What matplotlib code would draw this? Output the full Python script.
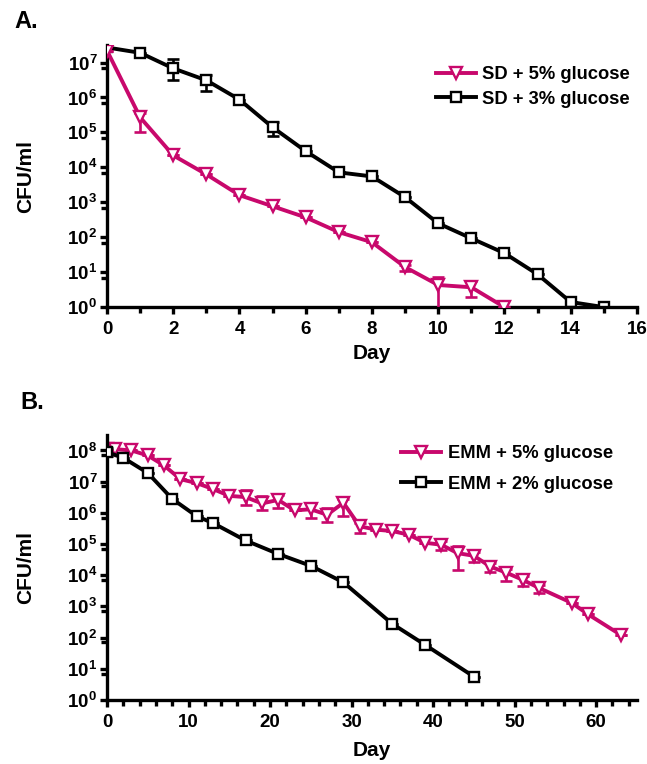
import numpy as np
import matplotlib
matplotlib.use('Agg')
import matplotlib.pyplot as plt
from matplotlib.ticker import MultipleLocator, FuncFormatter, LogLocator, NullFormatter

plt.rcParams['font.family'] = ['Liberation Sans', 'DejaVu Sans']
plt.rcParams['font.weight'] = 'bold'
plt.rcParams['mathtext.fontset'] = 'custom'
plt.rcParams['mathtext.bf'] = 'Liberation Sans:bold'
plt.rcParams['mathtext.rm'] = 'Liberation Sans:bold'

PINK = '#C8086C'
BLACK = '#000000'

# --- panel A: SD medium ---
days_sd5 = list(range(0, 13))
sd5 = [2.2e7, 2.7e5, 2.2e4, 6.3e3, 1.6e3, 7.7e2, 3.7e2, 1.4e2, 7.2e1, 1.4e1, 4.3, 3.7, 1.0]
sd5_lo = [2.2e7, 1.0e5, 2.2e4, 6.3e3, 1.6e3, 7.7e2, 3.7e2, 1.4e2, 7.2e1, 1.1e1, 0.5, 1.95, 1.0]
sd5_hi = [2.2e7, 3.7e5, 2.2e4, 6.3e3, 1.6e3, 7.7e2, 3.7e2, 1.4e2, 7.2e1, 1.6e1, 7.2, 5.5, 1.0]

days_sd3 = list(range(0, 16))
sd3 = [2.7e7, 1.9e7, 6.8e6, 3.1e6, 8.7e5, 1.4e5, 2.9e4, 7.2e3, 5.5e3, 1.4e3, 2.5e2, 9.3e1, 3.5e1, 8.7, 1.4, 1.0]
sd3_lo = [2.4e7, 1.9e7, 3.1e6, 1.5e6, 8.7e5, 8.1e4, 2.9e4, 7.2e3, 5.5e3, 1.4e3, 2.5e2, 9.3e1, 3.5e1, 8.7, 1.4, 1.0]
sd3_hi = [3.3e7, 1.9e7, 1.26e7, 4.3e6, 8.7e5, 1.95e5, 2.9e4, 7.2e3, 5.5e3, 1.4e3, 2.5e2, 9.3e1, 3.5e1, 8.7, 1.4, 1.0]

# --- panel B: EMM medium ---
days_emm5 = [0, 1, 3, 5, 7, 9, 11, 13, 15, 17, 19, 21, 23, 25, 27, 29, 31,
             33, 35, 37, 39, 41, 43, 45, 47, 49, 51, 53, 57, 59, 63]
emm5 = [1.1e8, 1.1e8, 1.0e8, 6.9e7, 3.3e7, 1.2e7, 9.0e6, 5.8e6, 3.5e6, 3.2e6,
        2.0e6, 2.6e6, 1.2e6, 1.3e6, 8.7e5, 2.1e6, 3.7e5, 2.9e5, 2.6e5, 2.0e5,
        1.1e5, 9.5e4, 5.1e4, 4.2e4, 1.9e4, 1.2e4, 7.1e3, 3.9e3, 1.3e3, 5.6e2, 1.23e2]
emm5_lo = [8.3e7, 1.1e8, 1.0e8, 6.9e7, 3.3e7, 1.2e7, 9.0e6, 5.8e6, 3.5e6, 1.8e6,
           1.2e6, 1.45e6, 1.2e6, 6.9e5, 5.0e5, 7.8e5, 2.3e5, 2.9e5, 2.6e5, 2.0e5,
           1.1e5, 6.6e4, 1.5e4, 2.75e4, 1.3e4, 6.3e3, 4.4e3, 2.7e3, 1.3e3, 5.6e2, 1.23e2]
emm5_hi = [1.55e8, 1.1e8, 1.0e8, 6.9e7, 3.3e7, 1.2e7, 9.0e6, 5.8e6, 3.5e6, 5.6e6,
           3.4e6, 3.8e6, 1.2e6, 2.1e6, 1.45e6, 2.8e6, 4.7e5, 2.9e5, 2.6e5, 2.0e5,
           1.1e5, 1.23e5, 8.5e4, 5.4e4, 2.45e4, 1.6e4, 9.1e3, 4.9e3, 1.3e3, 5.6e2, 1.23e2]

days_emm2 = [0, 2, 5, 8, 11, 13, 17, 21, 25, 29, 35, 39, 45]
emm2 = [8.8e7, 5.8e7, 1.9e7, 2.8e6, 7.8e5, 4.7e5, 1.3e5, 4.8e4, 2.0e4, 5.9e3, 2.75e2, 5.9e1, 5.6]
emm2_lo = [6.6e7, 5.8e7, 1.9e7, 2.8e6, 7.8e5, 4.7e5, 1.3e5, 4.8e4, 2.0e4, 5.9e3, 2.75e2, 5.9e1, 5.6]
emm2_hi = [1.2e8, 5.8e7, 1.9e7, 2.8e6, 7.8e5, 4.7e5, 1.3e5, 4.8e4, 2.0e4, 5.9e3, 2.75e2, 5.9e1, 5.6]

LW = 2.8
SPINE_LW = 2.4


def draw_series(ax, x, y, lo, hi, color, marker, ms, label, z):
    y = np.array(y)
    yerr = [y - np.array(lo), np.array(hi) - y]
    ax.errorbar(x, y, yerr=yerr, fmt='none', ecolor=color, elinewidth=1.9,
                capsize=4.2, capthick=1.9, zorder=z)
    ax.plot(x, y, color=color, lw=LW, marker=marker, ms=ms, mfc='white',
            mec=color, mew=1.7, label=label, zorder=z + 0.5)


def style_axis(ax, xmax, xmajor, xminor, ytop):
    ax.set_yscale('log')
    ax.set_xlim(0, xmax)
    ax.set_ylim(1, ytop)
    for s in ('top', 'right'):
        ax.spines[s].set_visible(False)
    for s in ('left', 'bottom'):
        ax.spines[s].set_linewidth(SPINE_LW)
    ax.xaxis.set_major_locator(MultipleLocator(xmajor))
    ax.xaxis.set_minor_locator(MultipleLocator(xminor))
    ax.yaxis.set_major_locator(LogLocator(base=10, numticks=20))
    ax.yaxis.set_minor_locator(LogLocator(base=10, subs=(7.0,), numticks=20))
    ax.yaxis.set_minor_formatter(NullFormatter())
    ax.yaxis.set_major_formatter(FuncFormatter(
        lambda v, p: r'$\mathbf{10^{%d}}$' % int(round(np.log10(v)))))
    ax.tick_params(which='major', direction='out', length=5, width=SPINE_LW,
                   labelsize=13.5, pad=2)
    ax.tick_params(which='minor', direction='out', length=4, width=SPINE_LW)
    ax.tick_params(axis='x', which='major', pad=5)
    ax.set_ylabel('CFU/ml', fontsize=15, fontweight='bold')
    ax.set_xlabel('Day', fontsize=15, fontweight='bold')
    ax.yaxis.set_label_coords(-0.135, 0.5)


fig = plt.figure(figsize=(6.47, 7.64), dpi=100)

axA = fig.add_axes([0.1654, 0.598, 0.819, 0.343])
draw_series(axA, days_sd5, sd5, sd5_lo, sd5_hi, PINK, 'v', 8.5, 'SD + 5% glucose', 3)
draw_series(axA, days_sd3, sd3, sd3_lo, sd3_hi, BLACK, 's', 7.5, 'SD + 3% glucose', 2)
style_axis(axA, 16, 2, 1, 10 ** 7.5)
axA.xaxis.set_label_coords(0.5, -0.14)
axA.legend(loc='upper left', bbox_to_anchor=(0.62, 0.92), frameon=False,
           fontsize=13.2, handlelength=2.2, handletextpad=0.35, labelspacing=0.42,
           borderpad=0, borderaxespad=0)

axB = fig.add_axes([0.1654, 0.0838, 0.819, 0.347])
draw_series(axB, days_emm5, emm5, emm5_lo, emm5_hi, PINK, 'v', 8.5, 'EMM + 5% glucose', 2)
draw_series(axB, days_emm2, emm2, emm2_lo, emm2_hi, BLACK, 's', 7.5, 'EMM + 2% glucose', 3)
style_axis(axB, 65, 10, 2, 10 ** 8.5)
axB.xaxis.set_label_coords(0.5, -0.155)
axB.legend(loc='upper left', bbox_to_anchor=(0.555, 0.962),
           frameon=False, fontsize=13.2, handlelength=2.2, handletextpad=0.35,
           labelspacing=0.75, borderpad=0, borderaxespad=0)

fig.text(0.022, 0.972, 'A.', fontsize=17, fontweight='bold', va='center')
fig.text(0.031, 0.473, 'B.', fontsize=17, fontweight='bold', va='center')

fig.savefig('out.png', dpi=100)
